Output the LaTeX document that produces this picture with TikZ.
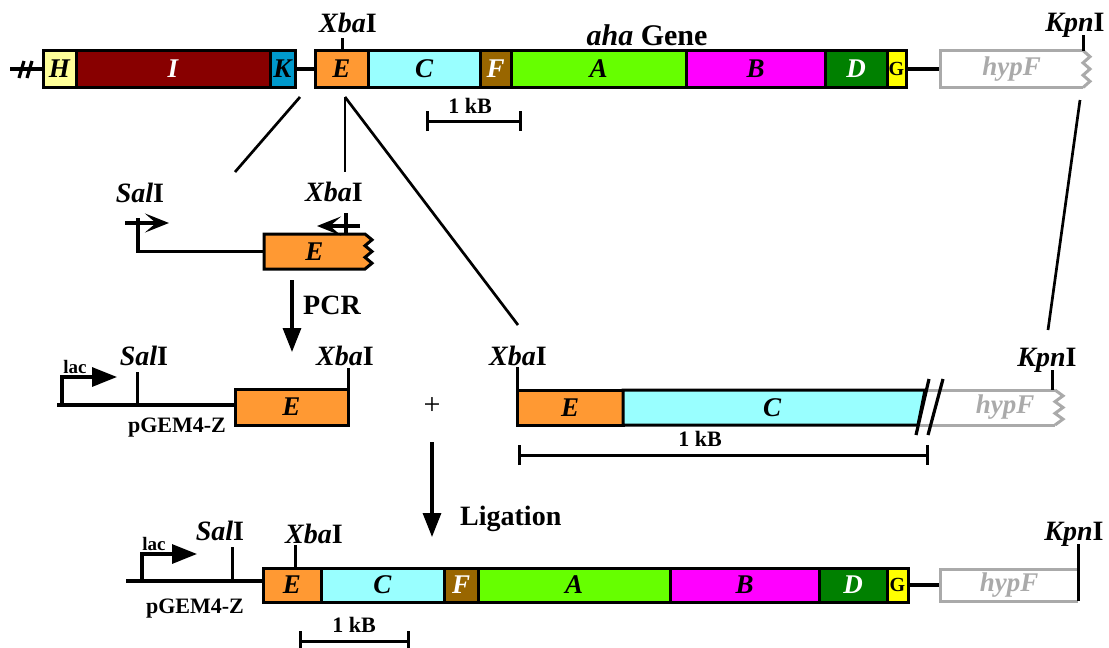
\documentclass[tikz,border=0pt]{standalone}
\usepackage{fontspec}
\setmainfont{Liberation Serif}
\usetikzlibrary{arrows.meta}

\definecolor{colH}{HTML}{FFFF99}
\definecolor{colI}{HTML}{880000}
\definecolor{colK}{HTML}{0099CC}
\definecolor{colE}{HTML}{FF9933}
\definecolor{colC}{HTML}{99FFFF}
\definecolor{colF}{HTML}{996600}
\definecolor{colA}{HTML}{66FF00}
\definecolor{colB}{HTML}{FF00FF}
\definecolor{colD}{HTML}{008000}
\definecolor{colG}{HTML}{FFFF00}
\definecolor{hypgray}{HTML}{AAAAAA}

\newcommand\fs[1]{\fontsize{#1}{#1}\selectfont}

\begin{document}
\begin{tikzpicture}[x=1pt,y=-1pt,
  gene/.style={draw=black, line width=3pt, outer sep=0pt, inner sep=0pt,
    anchor=west, minimum height=37pt, font=\fs{27}\bfseries\itshape},
  light/.style={text=white},
  gfont/.style={font=\fs{20}\bfseries},
  hyp/.style={outer sep=0pt, inner sep=0pt, anchor=west, minimum height=37pt,
    text=hypgray, font=\fs{27}\bfseries\itshape},
  hypline/.style={draw=hypgray, line width=3pt},
  dna/.style={line width=3.2pt},
  site/.style={line width=3pt},
  enz/.style={font=\fs{28}\bfseries, anchor=base, inner sep=0pt},
  lbl/.style={font=\fs{22}\bfseries, anchor=base, inner sep=0pt},
  zoomline/.style={line width=2.7pt},
  bigarrow/.style={line width=3.2pt, -{Triangle[length=24pt,width=18pt]}},
  primer/.style={line width=3.2pt, -{Stealth[length=24pt,width=19pt,inset=11pt]}},
  lacarrow/.style={line width=3.2pt, -{Triangle[length=25pt,width=19pt]}},
  scalebar/.style={line width=3pt, {Bar[width=20pt]}-{Bar[width=20pt]}},
]
\useasboundingbox (0,0) rectangle (1109,648);

% ---------------- genomic aha locus ----------------
\coordinate (brk) at (10,69);
\node[gene, fill=colH, minimum width=33pt] (tH) at (43,69) {H};
\node[gene, fill=colI, minimum width=194pt, light] (tI) at (tH.east) {I};
\node[gene, fill=colK, minimum width=25pt] (tK) at (tI.east) {K};
\node[gene, fill=colE, minimum width=53pt] (tE) at (315,69) {E};
\node[gene, fill=colC, minimum width=112pt] (tC) at (tE.east) {C};
\node[gene, fill=colF, minimum width=31pt, light] (tF) at (tC.east) {F};
\node[gene, fill=colA, minimum width=175pt] (tA) at (tF.east) {A};
\node[gene, fill=colB, minimum width=139pt] (tB) at (tA.east) {B};
\node[gene, fill=colD, minimum width=62pt, light] (tD) at (tB.east) {D};
\node[gene, fill=colG, minimum width=19pt, gfont] (tG) at (tD.east) {G};
\node[hyp, minimum width=143pt] (thyp) at (940,69) {hypF};

\draw[dna] (brk) -- (tH.west);
\draw[dna] ([shift={(9,9)}]brk) -- ++(5,-17);
\draw[dna] ([shift={(17,9)}]brk) -- ++(5,-17);
\draw[dna] (tK.east) -- (tE.west);
\draw[dna] (tG.east) -- (thyp.west);
\draw[hypline] (thyp.north east) -- (thyp.north west) -- (thyp.south west) -- (thyp.south east);
\draw[hypline] (thyp.north east) -- ++(7,6.17) -- ++(-7,6.17) -- ++(7,6.17)
  -- ++(-7,6.17) -- ++(7,6.17) -- ++(-7,6.17);

\node[enz] (xba1) at (348,32) {\textit{Xba}I};
\draw[site] ([xshift=27pt]tE.north west) -- ++(0,-13);
\node[enz] (kpn1) at (1075,31) {\textit{Kpn}I};
\draw[site] (thyp.north east) -- ++(0,-16);
\node[enz, font=\fs{30}\bfseries] (aha) at (647,45) {\textit{aha} Gene};

\coordinate (sb1a) at (426,121);
\coordinate (sb1b) at (522,121);
\draw[scalebar] (sb1a) -- (sb1b);
\node[lbl] (kb1) at (470,113) {1 kB};

% zoom lines towards the cloned fragments
\coordinate (zl1) at (300,97);
\coordinate (zl2) at (235,172);
\coordinate (zv1) at (345,97);
\coordinate (zv2) at (345,172);
\coordinate (zr2) at (518,325);
\coordinate (kr1) at (1080,100);
\coordinate (kr2) at (1048,330);
\draw[zoomline] (zl1) -- (zl2);
\draw[zoomline] (zv1) -- (zv2);
\draw[zoomline] (zv1) -- (zr2);
\draw[zoomline] (kr1) -- (kr2);

% ---------------- PCR template with primers ----------------
\filldraw[fill=colE, line width=3pt] (365,234) -- (264,234) -- (264,269) -- (365,269)
  -- (372,263.2) -- (365,257.3) -- (372,251.5) -- (365,245.7) -- (372,239.8) -- (365,234) -- cycle;
\node[outer sep=0pt, inner sep=0pt, minimum width=101pt, minimum height=35pt,
  font=\fs{27}\bfseries\itshape] (pE) at (314.5,251.5) {E};
\coordinate (salP) at (138,251.5);
\draw[dna] (pE.west) -- (salP) -- ++(0,-34);
\draw[primer] (125,223) -- (169,223);
\node[enz] (sal1) at (140,202) {\textit{Sal}I};
\draw[dna] (346,213) -- (pE.north -| 346,0);
\draw[primer] (360,226) -- (317,226);
\node[enz] (xba2) at (334,201) {\textit{Xba}I};

\coordinate (pcr1) at (292,280);
\coordinate (pcr2) at (292,352);
\draw[bigarrow] (pcr1) -- (pcr2);
\node[enz, anchor=base west] (pcr) at (303,314) {PCR};

% ---------------- PCR product in pGEM4-Z ----------------
\node[gene, fill=colE, minimum width=113pt, minimum height=36pt] (mE) at (235,407) {E};
\coordinate (pg1) at (57,405);
\draw[dna] (pg1) -- (mE.west |- pg1);
\draw[lacarrow] (62,405) -- (62,377) -- (117,377);
\node[lbl, font=\fs{19}\bfseries] (lac1) at (75,373) {lac};
\draw[site] (137,372) -- (137,405);
\node[enz] (sal2) at (144,365) {\textit{Sal}I};
\node[lbl] (pgem1) at (177,432) {pGEM4-Z};
\draw[site] (348,368) -- (mE.north east);
\node[enz] (xba3) at (345,365) {\textit{Xba}I};
\node[font=\fs{30}] (plus) at (432,406) {+};

% ---------------- XbaI--KpnI fragment ----------------
\node[gene, fill=colE, minimum width=106pt, minimum height=35pt] (rE) at (517,407.5) {E};
\filldraw[fill=colC, line width=3pt] (rE.north east) -- (925,390) -- (918,425) -- (rE.south east) -- cycle;
\node[font=\fs{27}\bfseries\itshape] (rC) at (772,407.5) {C};
\draw[hypline] (927,390) -- (1055,390);
\draw[hypline] (920,425) -- (1055,425);
\draw[hypline] (1055,390) -- ++(8,5.83) -- ++(-8,5.83) -- ++(8,5.83) -- ++(-8,5.83)
  -- ++(8,5.83) -- ++(-8,5.83);
\node[font=\fs{27}\bfseries\itshape, text=hypgray] (rhyp) at (1005,407.5) {hypF};
\draw[dna] (916,435) -- (929,379);
\draw[dna] (928,435) -- (943,379);
\draw[site] (1052,370) -- (1052,390);
\node[enz] (kpn2) at (1047,366) {\textit{Kpn}I};
\draw[site] (rE.north west) -- ++(0,-23);
\node[enz] (xba4) at (518,365) {\textit{Xba}I};
\coordinate (sb2a) at (518,455);
\coordinate (sb2b) at (929,455);
\draw[scalebar] (sb2a) -- (sb2b);
\node[lbl] (kb2) at (700,446) {1 kB};

\coordinate (lig1) at (432,442);
\coordinate (lig2) at (432,537);
\draw[bigarrow] (lig1) -- (lig2);
\node[enz, anchor=base west] (lig) at (460,525) {Ligation};

% ---------------- ligation product ----------------
\node[gene, fill=colE, minimum width=58pt, minimum height=34pt] (bE) at (263,585) {E};
\node[gene, fill=colC, minimum width=123pt, minimum height=34pt] (bC) at (bE.east) {C};
\node[gene, fill=colF, minimum width=34pt, minimum height=34pt, light] (bF) at (bC.east) {F};
\node[gene, fill=colA, minimum width=192pt, minimum height=34pt] (bA) at (bF.east) {A};
\node[gene, fill=colB, minimum width=149pt, minimum height=34pt] (bB) at (bA.east) {B};
\node[gene, fill=colD, minimum width=68pt, minimum height=34pt, light] (bD) at (bB.east) {D};
\node[gene, fill=colG, minimum width=21pt, minimum height=34pt, gfont] (bG) at (bD.east) {G};
\node[hyp, minimum width=138pt, minimum height=32pt] (bhyp) at (940,585) {hypF};
\draw[dna] (bG.east) -- (bhyp.west);
\draw[hypline] (bhyp.north east) -- (bhyp.north west) -- (bhyp.south west) -- (bhyp.south east);
\draw[site] (bhyp.south east) -- ++(0,-57);
\node[enz] (kpn3) at (1074,540) {\textit{Kpn}I};

\coordinate (pg2) at (126,581);
\draw[dna] (pg2) -- (bE.west |- pg2);
\draw[lacarrow] (142,581) -- (142,554) -- (197,554);
\node[lbl, font=\fs{19}\bfseries] (lac2) at (154,550) {lac};
\draw[site] (232,547) -- (232,581);
\node[enz] (sal3) at (220,540) {\textit{Sal}I};
\node[lbl] (pgem2) at (195,613) {pGEM4-Z};
\draw[site] (295,545) -- (bE.north -| 295,0);
\node[enz] (xba5) at (314,543) {\textit{Xba}I};

\coordinate (sb3a) at (299,641);
\coordinate (sb3b) at (410,641);
\draw[scalebar] (sb3a) -- (sb3b);
\node[lbl] (kb3) at (354,632) {1 kB};
\end{tikzpicture}
\end{document}
